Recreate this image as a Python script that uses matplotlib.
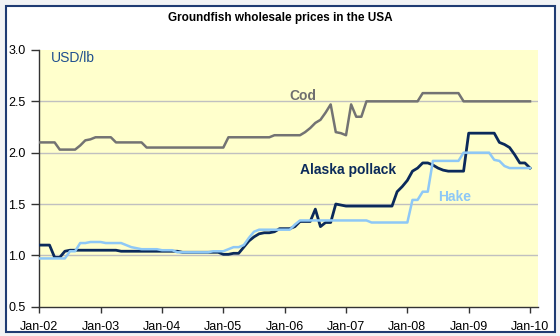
import matplotlib
matplotlib.use("Agg")
import matplotlib.pyplot as plt
from matplotlib.patches import Rectangle

plt.rcParams['font.family'] = ['Liberation Sans', 'DejaVu Sans']

# Monthly prices, USD/lb, Jan-2002 .. Jan-2010
cod = [2.10, 2.10, 2.10, 2.10, 2.03, 2.03, 2.03, 2.03, 2.07, 2.12, 2.13, 2.15,
       2.15, 2.15, 2.15, 2.10, 2.10, 2.10, 2.10, 2.10, 2.10, 2.05, 2.05, 2.05,
       2.05, 2.05, 2.05, 2.05, 2.05, 2.05, 2.05, 2.05, 2.05, 2.05, 2.05, 2.05,
       2.05, 2.15, 2.15, 2.15, 2.15, 2.15, 2.15, 2.15, 2.15, 2.15, 2.17, 2.17,
       2.17, 2.17, 2.17, 2.17, 2.20, 2.24, 2.29, 2.32, 2.39, 2.47, 2.20, 2.19,
       2.17, 2.47, 2.35, 2.35, 2.50, 2.50, 2.50, 2.50, 2.50, 2.50, 2.50, 2.50,
       2.50, 2.50, 2.50, 2.58, 2.58, 2.58, 2.58, 2.58, 2.58, 2.58, 2.58, 2.50,
       2.50, 2.50, 2.50, 2.50, 2.50, 2.50, 2.50, 2.50, 2.50, 2.50, 2.50, 2.50,
       2.50]
pollack = [1.10, 1.10, 1.10, 0.98, 0.98, 1.04, 1.05, 1.05, 1.05, 1.05, 1.05, 1.05,
           1.05, 1.05, 1.05, 1.05, 1.04, 1.04, 1.04, 1.04, 1.04, 1.04, 1.04, 1.04,
           1.04, 1.04, 1.04, 1.04, 1.03, 1.03, 1.03, 1.03, 1.03, 1.03, 1.03, 1.03,
           1.01, 1.01, 1.02, 1.02, 1.08, 1.14, 1.18, 1.21, 1.22, 1.22, 1.23, 1.26,
           1.26, 1.26, 1.28, 1.33, 1.33, 1.33, 1.45, 1.28, 1.32, 1.32, 1.50, 1.49,
           1.48, 1.48, 1.48, 1.48, 1.48, 1.48, 1.48, 1.48, 1.48, 1.48, 1.62, 1.67,
           1.73, 1.82, 1.85, 1.90, 1.90, 1.88, 1.85, 1.83, 1.82, 1.82, 1.82, 1.82,
           2.19, 2.19, 2.19, 2.19, 2.19, 2.19, 2.10, 2.08, 2.05, 1.98, 1.90, 1.90,
           1.85]
hake = [0.97, 0.97, 0.97, 0.97, 0.97, 0.97, 1.04, 1.04, 1.12, 1.12, 1.13, 1.13,
        1.13, 1.12, 1.12, 1.12, 1.12, 1.10, 1.08, 1.07, 1.06, 1.06, 1.06, 1.06,
        1.05, 1.05, 1.05, 1.03, 1.03, 1.03, 1.03, 1.03, 1.03, 1.03, 1.04, 1.04,
        1.04, 1.06, 1.08, 1.08, 1.10, 1.17, 1.23, 1.25, 1.25, 1.25, 1.25, 1.25,
        1.25, 1.25, 1.30, 1.34, 1.34, 1.34, 1.34, 1.34, 1.34, 1.34, 1.34, 1.34,
        1.34, 1.34, 1.34, 1.34, 1.34, 1.32, 1.32, 1.32, 1.32, 1.32, 1.32, 1.32,
        1.32, 1.54, 1.54, 1.62, 1.62, 1.92, 1.92, 1.92, 1.92, 1.92, 1.92, 2.00,
        2.00, 2.00, 2.00, 2.00, 2.00, 1.93, 1.92, 1.87, 1.85, 1.85, 1.85, 1.85,
        1.85]
tick_labels = ["Jan-02", "Jan-03", "Jan-04", "Jan-05", "Jan-06",
               "Jan-07", "Jan-08", "Jan-09", "Jan-10"]
y_ticks = [0.5, 1.0, 1.5, 2.0, 2.5, 3.0]

months = list(range(len(cod)))
tick_pos = [12 * i for i in range(len(tick_labels))]

W, H = 560, 336
fig = plt.figure(figsize=(W / 100, H / 100), dpi=100)
fig.patch.set_facecolor('#f2f3f5')

# white panel with navy border
fig.patches.append(Rectangle((6 / W, 1 - 332 / H), (555 - 6) / W, (332 - 6) / H,
                             transform=fig.transFigure, facecolor='white',
                             edgecolor='#1f3b73', linewidth=1.5, zorder=-5))

ax = fig.add_axes([39.3 / W, 1 - 306.7 / H, (537.7 - 39.3) / W, (306.7 - 50) / H])
ax.set_zorder(2)
ax.set_facecolor('#ffffcc')

ax.plot(months, cod, color='#737373', lw=1.8, zorder=3)
ax.plot(months, pollack, color='#0b2a5b', lw=2.0, zorder=4)
ax.plot(months, hake, color='#8ec8f6', lw=1.8, zorder=5)

ax.set_xlim(0, 97.5)
ax.set_ylim(0.5, 3.0)
ax.set_xticks(tick_pos)
ax.set_xticklabels(tick_labels)
ax.set_yticks(y_ticks)
ax.set_yticklabels([f"{v:.1f}" for v in y_ticks])
ax.tick_params(axis='both', labelsize=9, colors='#333333', labelcolor='black',
               direction='out', length=4, width=1)
ax.tick_params(axis='y', length=6, pad=4)
ax.tick_params(axis='x', pad=6)

for v in y_ticks[1:-1]:
    ax.axhline(v, color='#c0c0c0', lw=1, zorder=1)

for s in ('top', 'right'):
    ax.spines[s].set_visible(False)
for s in ('left', 'bottom'):
    ax.spines[s].set_color('#333333')
    ax.spines[s].set_linewidth(1)

ax.text(2.2, 2.92, "USD/lb", color='#1f4f8f', fontsize=10,
        va='center', ha='left')
ax.text(49.0, 2.55, "Cod", color='#6f6f6f', fontsize=10, fontweight='bold',
        ha='left', va='center')
ax.text(51.0, 1.83, "Alaska pollack", color='#0b2a5b', fontsize=10,
        fontweight='bold', ha='left', va='center')
ax.text(78.0, 1.57, "Hake", color='#8ec8f6', fontsize=10, fontweight='bold',
        ha='left', va='center')

fig.text(280 / W, 1 - 18 / H, "Groundfish wholesale prices in the USA",
         ha='center', va='center', fontsize=8.5, fontweight='bold', color='black')

fig.savefig("out.png", dpi=100, facecolor=fig.get_facecolor())
